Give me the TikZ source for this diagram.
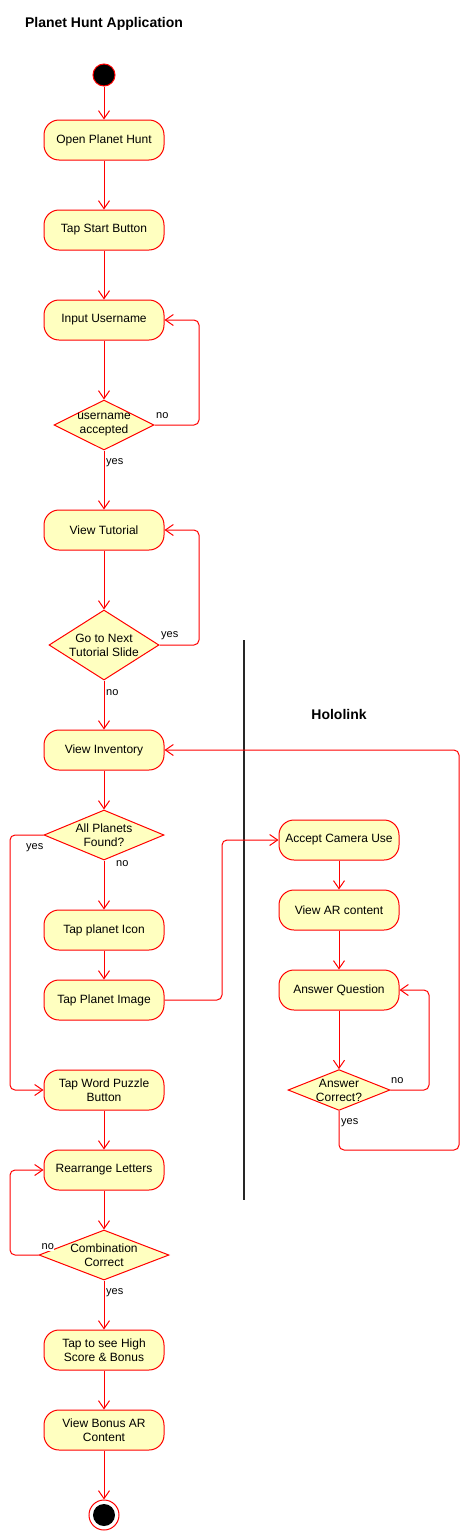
\documentclass[tikz,border=0pt]{standalone}
\usepackage{fontspec}
\setmainfont{Liberation Sans}
\usetikzlibrary{arrows.meta,shapes.geometric}
\definecolor{actfill}{HTML}{FFFFC0}
\definecolor{actline}{HTML}{FF0000}
\begin{document}
\begin{tikzpicture}[x=1pt,y=-1pt,
  act/.style={draw=actline,fill=actfill,rounded corners=15pt,minimum width=120pt,minimum height=40pt,inner sep=0pt,align=center,font=\fontsize{12}{14}\selectfont,line width=1pt},
  dec/.style={draw=actline,fill=actfill,diamond,inner sep=0pt,align=center,font=\fontsize{12}{14}\selectfont,line width=1pt},
  flow/.style={draw=actline,line width=1pt,rounded corners=5pt,-{Straight Barb[length=8pt,width=11pt,line width=1pt]}},
  lbl/.style={font=\fontsize{11}{13}\selectfont,inner sep=0pt},
  ttl/.style={font=\bfseries\fontsize{14}{16}\selectfont,inner sep=0pt}]
\useasboundingbox (0,0) rectangle (470,1531);
\node[ttl] (title) at (104,24) {Planet Hunt Application};
\node[ttl] (holo) at (339,714) {Hololink};
\draw[line width=2.2pt,black!85] (244,640) coordinate (barTop) -- (244,1200) coordinate (barBot);

\node[draw=actline,fill=black,circle,minimum size=22pt,inner sep=0pt,line width=1pt] (start) at (104,75) {};
\node[act] (open) at (104,140) {Open Planet Hunt};
\node[act] (tapstart) at (104,230) {Tap Start Button};
\node[act] (user) at (104,320) {Input Username};
\node[dec,shape aspect=2,minimum width=100pt,minimum height=50pt] (ua) at (104,425) {username\\accepted};
\node[act] (tut) at (104,530) {View Tutorial};
\node[dec,shape aspect=1.571,minimum width=110pt,minimum height=70pt] (next) at (104,645) {Go to Next\\Tutorial Slide};
\node[act] (inv) at (104,750) {View Inventory};
\node[dec,shape aspect=2.4,minimum width=120pt,minimum height=50pt] (all) at (104,835) {All Planets\\Found?};
\node[act] (icon) at (104,930) {Tap planet Icon};
\node[act] (image) at (104,1000) {Tap Planet Image};
\node[act] (puzzle) at (104,1090) {Tap Word Puzzle\\Button};
\node[act] (rearr) at (104,1170) {Rearrange Letters};
\node[dec,shape aspect=2.6,minimum width=130pt,minimum height=50pt] (comb) at (104,1255) {Combination\\Correct};
\node[act] (score) at (104,1350) {Tap to see High\\Score \& Bonus};
\node[act] (bonus) at (104,1430) {View Bonus AR\\Content};
\node[draw=actline,circle,minimum size=30pt,inner sep=0pt,line width=1pt] (endo) at (104,1515) {};
\node[fill=black,circle,minimum size=22pt,inner sep=0pt] (endi) at (104,1515) {};

\node[act] (cam) at (339,840) {Accept Camera Use};
\node[act] (ar) at (339,910) {View AR content};
\node[act] (ques) at (339,990) {Answer Question};
\node[dec,shape aspect=2.5,minimum width=100pt,minimum height=40pt] (corr) at (339,1090) {Answer\\Correct?};

\draw[flow] (start) -- (open);
\draw[flow] (open) -- (tapstart);
\draw[flow] (tapstart) -- (user);
\draw[flow] (user) -- (ua);
\draw[flow] (ua.east) -- (199,425) -- (199,320) -- (user.east);
\draw[flow] (ua) -- (tut);
\draw[flow] (tut) -- (next);
\draw[flow] (next.east) -- (199,645) -- (199,530) -- (tut.east);
\draw[flow] (next) -- (inv);
\draw[flow] (inv) -- (all);
\draw[flow] (all) -- (icon);
\draw[flow] (all.west) -- (10,835) -- (10,1090) -- (puzzle.west);
\draw[flow] (icon) -- (image);
\draw[flow] (image.east) -- (222,1000) -- (222,840) -- (cam.west);
\draw[flow] (puzzle) -- (rearr);
\draw[flow] (rearr) -- (comb);
\draw[flow] (comb.west) -- (10,1255) -- (10,1170) -- (rearr.west);
\draw[flow] (comb) -- (score);
\draw[flow] (score) -- (bonus);
\draw[flow] (bonus) -- (endo);
\draw[flow] (cam) -- (ar);
\draw[flow] (ar) -- (ques);
\draw[flow] (ques) -- (corr);
\draw[flow] (corr.east) -- (429,1090) -- (429,990) -- (ques.east);
\draw[flow] (corr.south) -- (339,1150) -- (459,1150) -- (459,750) -- (inv.east);

\node[lbl,anchor=west] (l1) at (156,416) {no};
\node[lbl,anchor=west] (l2) at (106,463) {yes};
\node[lbl,anchor=west] (l3) at (161,636) {yes};
\node[lbl,anchor=west] (l4) at (106,693) {no};
\node[lbl,anchor=west] (l5) at (26,848) {yes};
\node[lbl,anchor=west] (l6) at (116,864) {no};
\node[lbl,anchor=west,fill=white,inner sep=0.5pt] (l7) at (41,1247) {no};
\node[lbl,anchor=west] (l8) at (106,1293) {yes};
\node[lbl,anchor=west] (l9) at (391,1081) {no};
\node[lbl,anchor=west] (l10) at (341,1123) {yes};
\end{tikzpicture}
\end{document}
